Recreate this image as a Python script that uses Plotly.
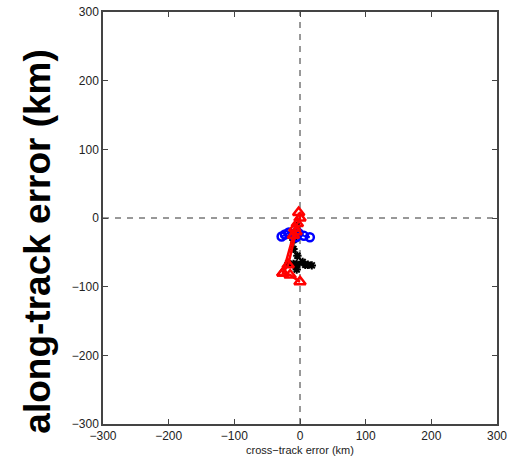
import plotly.graph_objects as go

# Data
blue_x = [-28, -23, -17, -11, -6, -2, 6, 15]
blue_y = [-27, -24, -21, -25, -28, -22, -26, -28]

black_x = [-5, -8, -10, -10, -4, 4, 12, 18, 8, -5, -18, -10, -6, -5]
black_y = [-12, -22, -32, -45, -55, -64, -68, -69, -68, -67, -66, -67, -70, -75]

red_x = [-2, 0, -4, -8, -10, -26, -15, 0, None, -6, -18, -26]
red_y = [8, 0, -8, -15, -25, -80, -83, -93, None, -20, -68, -80]

x_ticks = [-300, -200, -100, 0, 100, 200, 300]
y_ticks = [-300, -200, -100, 0, 100, 200, 300]

fig = go.Figure()

# dashed zero lines
fig.add_shape(type="line", x0=0, x1=0, y0=-300, y1=300, xref="x", yref="y",
              line=dict(color="#333", width=1, dash="6px,6px"), layer="below")
fig.add_shape(type="line", x0=-300, x1=300, y0=0, y1=0, xref="x", yref="y",
              line=dict(color="#333", width=1, dash="6px,6px"), layer="below")

fig.add_trace(go.Scatter(x=black_x, y=black_y, mode="lines+markers",
                         line=dict(color="black", width=2),
                         marker=dict(symbol="asterisk-open", size=7,
                                     line=dict(color="black", width=2))))
fig.add_trace(go.Scatter(x=blue_x, y=blue_y, mode="lines+markers",
                         line=dict(color="blue", width=2),
                         marker=dict(symbol="circle-open", size=8,
                                     line=dict(color="blue", width=2.5))))
fig.add_trace(go.Scatter(x=red_x, y=red_y, mode="lines+markers",
                         line=dict(color="red", width=2.5),
                         marker=dict(symbol="triangle-up-open", size=10,
                                     line=dict(color="red", width=2.5))))

axis_common = dict(range=[-300, 300], showgrid=False, zeroline=False,
                   showline=True, linecolor="#444", linewidth=1.5,
                   mirror="ticks", ticks="inside", ticklen=5, tickcolor="#444",
                   automargin=False,
                   tickfont=dict(family="Liberation Sans, Arial", size=12, color="#222"))

fig.update_xaxes(tickvals=x_ticks, ticktext=[("−" + str(-v)) if v < 0 else str(v) for v in x_ticks],
                 title=dict(text="cross−track error (km)",
                            font=dict(family="Liberation Sans, Arial", size=11, color="#222"),
                            standoff=4),
                 **axis_common)
fig.update_yaxes(tickvals=y_ticks, ticktext=[("−" + str(-v)) if v < 0 else str(v) for v in y_ticks],
                 **axis_common)

fig.add_annotation(text="<b>along-track error (km)</b>", textangle=-90,
                   xref="paper", yref="paper", x=-0.165, y=0.445,
                   xanchor="center", yanchor="middle", showarrow=False,
                   font=dict(family="Liberation Sans, Arial", size=37, color="black"))

fig.update_layout(width=520, height=463, showlegend=False,
                  plot_bgcolor="white", paper_bgcolor="white",
                  margin=dict(l=103, r=23, t=12, b=39))

fig.write_html("out.html")
